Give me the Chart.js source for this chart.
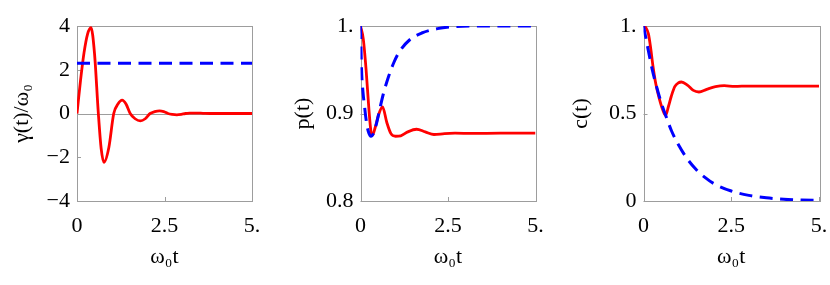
<!DOCTYPE html>
<html>
<head>
<meta charset="utf-8">
<script src="https://cdn.jsdelivr.net/npm/chart.js@4/dist/chart.umd.min.js"></script>
<style>
  html, body { margin: 0; padding: 0; background: #fff; overflow: hidden; }
  #wrap { position: relative; width: 830px; height: 285px; }
  #wrap canvas { position: absolute; top: 0; }
</style>
</head>
<body>
<div id="wrap">
  <canvas id="gammaChart" width="262" height="285" style="left:0px"></canvas>
  <canvas id="pChart" width="266" height="285" style="left:280px"></canvas>
  <canvas id="cChart" width="270" height="285" style="left:560px"></canvas>
</div>
<script>
// ---- data ----
const xTicks = [0, 2.5, 5];
const xTickLabels = ['0', '2.5', '5.'];

// panel 1: gamma(t)/omega0
const gammaTicks = [-4, -2, 0, 2, 4];
const gammaTickLabels = ['\u22124', '\u22122', '0', '2', '4'];
const gammaRedT = [0, 0.1, 0.2, 0.3, 0.4, 0.5, 0.61, 0.69, 0.77, 0.91, 1.05, 1.17, 1.29, 1.4, 1.52, 1.66, 1.81, 1.95, 2.09, 2.22, 2.36, 2.48, 2.6, 2.72, 2.85, 2.98, 3.1, 3.25, 3.4, 3.6, 3.8, 4.2, 5];
const gammaRed  = [0, 1.5, 2.77, 3.62, 3.92, 2.75, 0, -1.6, -2.23, -1.55, 0, 0.43, 0.61, 0.43, 0, -0.24, -0.34, -0.24, 0, 0.085, 0.12, 0.085, 0, -0.04, -0.06, -0.04, 0, 0.015, 0.02, 0.01, 0, 0, 0];
const gammaBlueT = [0, 5];
const gammaBlue  = [2.3, 2.3];

// panel 2: p(t)
const pTicks = [0.8, 0.9, 1];
const pTickLabels = ['0.8', '0.9', '1.'];
const pRedT = [0, 0.08, 0.16, 0.24, 0.3, 0.34, 0.42, 0.52, 0.63, 0.75, 0.87, 1.0, 1.15, 1.35, 1.6, 1.85, 2.1, 2.4, 2.7, 3.2, 4, 5];
const pRed  = [1, 0.985, 0.95, 0.905, 0.879, 0.875, 0.884, 0.899, 0.9075, 0.89, 0.877, 0.874, 0.8745, 0.879, 0.882, 0.879, 0.876, 0.877, 0.8775, 0.8772, 0.8775, 0.8775];
const pBlueT = [0, 0.03, 0.07, 0.11, 0.16, 0.22, 0.3, 0.38, 0.46, 0.55, 0.65, 0.8, 0.95, 1.1, 1.4, 1.75, 2.2, 2.7, 3.5, 5];
const pBlue  = [1, 0.95, 0.925, 0.91, 0.893, 0.88, 0.874, 0.878, 0.889, 0.905, 0.922, 0.942, 0.958, 0.97, 0.984, 0.992, 0.997, 0.9993, 1, 1];

// panel 3: c(t)
const cTicks = [0, 0.5, 1];
const cTickLabels = ['0', '0.5', '1.'];
const cRedT = [0, 0.07, 0.14, 0.2, 0.27, 0.35, 0.45, 0.55, 0.63, 0.71, 0.79, 0.89, 1.0, 1.08, 1.25, 1.42, 1.58, 1.8, 2.05, 2.3, 2.6, 3, 4, 5];
const cRed  = [1, 0.99, 0.955, 0.88, 0.77, 0.67, 0.585, 0.52, 0.489, 0.54, 0.597, 0.653, 0.676, 0.68, 0.662, 0.632, 0.623, 0.638, 0.653, 0.659, 0.655, 0.657, 0.657, 0.657];
const cBlueT = [0, 0.14, 0.25, 0.35, 0.5, 0.63, 0.8, 1.0, 1.25, 1.5, 1.75, 2.0, 2.5, 3.0, 3.5, 4.0, 4.5, 5.0];
const cBlue  = [1, 0.858, 0.75, 0.67, 0.565, 0.49, 0.40, 0.32, 0.24, 0.18, 0.135, 0.10, 0.057, 0.032, 0.018, 0.010, 0.006, 0.003];

// ---- drawing ----
const serif = 'Liberation Serif';
const frameColor = '#9d9d9d';
Chart.defaults.font.family = serif;

function pts(ts, vs) {
  return ts.map((t, i) => ({ x: t, y: vs[i] }));
}

function redLine(ts, vs) {
  return {
    data: pts(ts, vs),
    borderColor: '#ff0000',
    borderWidth: 2.8,
    pointRadius: 0,
    cubicInterpolationMode: 'monotone',
    fill: false
  };
}

function blueLine(ts, vs) {
  return {
    data: pts(ts, vs),
    borderColor: '#0000ff',
    borderWidth: 3,
    borderDash: [13, 7.5],
    borderCapStyle: 'butt',
    pointRadius: 0,
    cubicInterpolationMode: 'monotone',
    fill: false
  };
}

// frame, inward tick marks and optional zero axis
const framePlugin = {
  id: 'frame',
  beforeDatasetsDraw(chart, args, opts) {
    const { ctx, chartArea: a, scales } = chart;
    ctx.save();
    ctx.strokeStyle = frameColor;
    ctx.lineWidth = 1;
    if (opts.zeroLine) {
      const y0 = Math.round(scales.y.getPixelForValue(0)) + 0.5;
      ctx.beginPath();
      ctx.moveTo(a.left, y0);
      ctx.lineTo(a.right, y0);
      ctx.stroke();
    }
    ctx.strokeRect(Math.round(a.left) + 0.5, Math.round(a.top) + 0.5,
                   Math.round(a.right - a.left), Math.round(a.bottom - a.top));
    ctx.beginPath();
    scales.x.ticks.forEach(t => {
      const x = Math.round(scales.x.getPixelForValue(t.value)) + 0.5;
      ctx.moveTo(x, a.bottom);
      ctx.lineTo(x, a.bottom - 4);
    });
    scales.y.ticks.forEach(t => {
      const y = Math.round(scales.y.getPixelForValue(t.value)) + 0.5;
      ctx.moveTo(a.left, y);
      ctx.lineTo(a.left + 4, y);
    });
    ctx.stroke();
    ctx.restore();
  }
};

function makePanel(id, p) {
  return new Chart(document.getElementById(id), {
    type: 'line',
    data: { datasets: p.datasets },
    options: {
      responsive: false,
      animation: false,
      devicePixelRatio: 1,
      layout: { padding: { top: 26, right: p.padRight, bottom: 0, left: 0 } },
      plugins: {
        legend: { display: false },
        tooltip: { enabled: false },
        frame: { zeroLine: !!p.zeroLine }
      },
      scales: {
        x: {
          type: 'linear',
          min: 0,
          max: 5,
          afterBuildTicks: s => { s.ticks = xTicks.map(v => ({ value: v })); },
          afterFit: s => { s.height = 84; s.paddingLeft = 0; s.paddingRight = 0; },
          grid: { display: false, drawTicks: false },
          border: { display: false },
          ticks: {
            color: '#000',
            padding: 12,
            maxRotation: 0,
            font: { family: serif, size: 22 },
            callback: (v, i) => xTickLabels[i]
          },
          title: {
            display: true,
            text: '\u03c9\u2080t',
            color: '#000',
            font: { family: serif, size: 22 },
            padding: { top: 0, bottom: 15 }
          }
        },
        y: {
          type: 'linear',
          min: p.yMin,
          max: p.yMax,
          afterBuildTicks: s => { s.ticks = p.yTicks.map(v => ({ value: v })); },
          afterFit: s => { s.width = p.yWidth; s.paddingTop = 0; s.paddingBottom = 0; },
          grid: { display: false, drawTicks: false },
          border: { display: false },
          ticks: {
            color: '#000',
            padding: 7,
            font: { family: serif, size: 22 },
            callback: (v, i) => p.yTickLabels[i]
          },
          title: {
            display: true,
            text: p.yTitle,
            color: '#000',
            font: { family: serif, size: 22 },
            padding: { top: p.titlePad, bottom: 0 }
          }
        }
      }
    },
    plugins: [framePlugin]
  });
}

makePanel('gammaChart', {
  datasets: [blueLine(gammaBlueT, gammaBlue), redLine(gammaRedT, gammaRed)],
  yMin: -4, yMax: 4, yTicks: gammaTicks, yTickLabels: gammaTickLabels,
  yTitle: '\u03b3(t)/\u03c9\u2080', yWidth: 77, titlePad: 9, padRight: 10, zeroLine: true
});

makePanel('pChart', {
  datasets: [blueLine(pBlueT, pBlue), redLine(pRedT, pRed)],
  yMin: 0.8, yMax: 1, yTicks: pTicks, yTickLabels: pTickLabels,
  yTitle: 'p(t)', yWidth: 80.5, titlePad: 10, padRight: 10.5
});

makePanel('cChart', {
  datasets: [blueLine(cBlueT, cBlue), redLine(cRedT, cRed)],
  yMin: 0, yMax: 1, yTicks: cTicks, yTickLabels: cTickLabels,
  yTitle: 'c(t)', yWidth: 83.5, titlePad: 8, padRight: 11
});
</script>
</body>
</html>
